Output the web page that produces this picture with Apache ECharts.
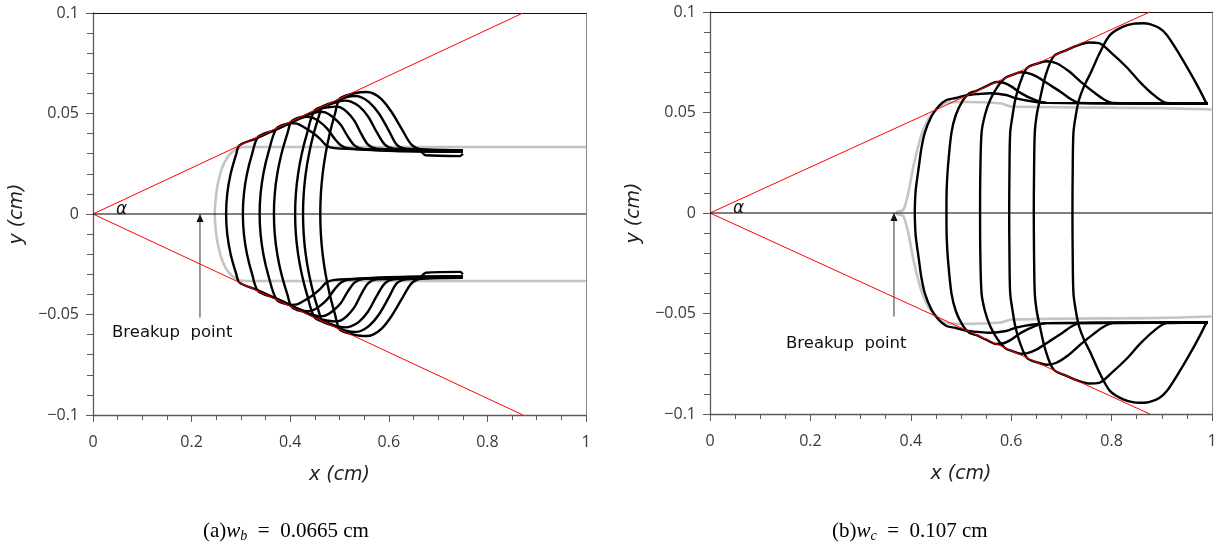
<!DOCTYPE html>
<html>
<head>
<meta charset="utf-8">
<script src="https://cdn.jsdelivr.net/npm/echarts@6/dist/echarts.min.js"></script>
<style>
  html, body { margin: 0; padding: 0; background: #fff; }
  #chart { width: 1229px; height: 546px; }
</style>
</head>
<body>
<div id="chart"></div>
<script>
// ---------- axes ----------
const xRange = [0, 1];
const yRange = [-0.1, 0.1];
const xStep = 0.2;
const yStep = 0.05;

// ---------- panel (a): w_b = 0.0665 cm ----------
// cone edge: end point of the upper red line (lower one is mirrored)
const coneEndA = [0.872, 0.1];
// breakup envelope (upper half, from the tip outwards)
const envelopeA = [
  [0.247, 0], [0.250, 0.010], [0.255, 0.017], [0.262, 0.023], [0.272, 0.028],
  [0.283, 0.031], [0.295, 0.0328], [0.310, 0.0333], [1.0, 0.0333]
];
// interface profiles (upper half, from the axis outwards to the tail)
const profileA1 = [
  [0.270, 0], [0.2723, 0.01], [0.2792, 0.02], [0.2907, 0.03], [0.2966, 0.034],
  [0.33, 0.0375], [0.36, 0.0408], [0.388, 0.0438], [0.403, 0.0452], [0.414, 0.0450],
  [0.428, 0.0432], [0.445, 0.0405], [0.46, 0.0375], [0.474, 0.034], [0.49, 0.0328],
  [0.55, 0.0322], [0.75, 0.0318]
];
const profileA2 = [
  [0.304, 0], [0.3061, 0.01], [0.3124, 0.02], [0.3229, 0.03], [0.335, 0.0384],
  [0.37, 0.0419], [0.40, 0.0454], [0.42, 0.0475], [0.433, 0.0484], [0.444, 0.0481],
  [0.458, 0.0462], [0.475, 0.0425], [0.49, 0.0375], [0.504, 0.034], [0.52, 0.0326],
  [0.6, 0.0315], [0.75, 0.031]
];
const profileA3 = [
  [0.338, 0], [0.3399, 0.01], [0.3456, 0.02], [0.3551, 0.03], [0.3727, 0.0427],
  [0.40, 0.0455], [0.43, 0.0488], [0.448, 0.0503], [0.460, 0.0509], [0.471, 0.0506],
  [0.485, 0.0485], [0.502, 0.0445], [0.517, 0.0385], [0.531, 0.034], [0.55, 0.0322],
  [0.66, 0.0312], [0.75, 0.031]
];
const profileA4 = [
  [0.367, 0], [0.3687, 0.01], [0.3738, 0.02], [0.3823, 0.03], [0.3942, 0.04],
  [0.4034, 0.0463], [0.43, 0.0490], [0.46, 0.0522], [0.478, 0.0531], [0.491, 0.0534],
  [0.502, 0.0530], [0.515, 0.0508], [0.53, 0.0465], [0.545, 0.0395], [0.558, 0.0345],
  [0.575, 0.0325], [0.66, 0.032], [0.675, 0.0292], [0.745, 0.0288], [0.75, 0.030]
];
const profileA5 = [
  [0.410, 0], [0.4115, 0.01], [0.416, 0.02], [0.4235, 0.03], [0.434, 0.04],
  [0.45, 0.0516], [0.48, 0.0545], [0.50, 0.0561], [0.511, 0.0564], [0.523, 0.0559],
  [0.54, 0.0535], [0.558, 0.0485], [0.575, 0.041], [0.592, 0.0345], [0.61, 0.0325],
  [0.75, 0.0318]
];
const profileA6 = [
  [0.426, 0], [0.4274, 0.01], [0.4314, 0.02], [0.4382, 0.03], [0.4476, 0.04],
  [0.4598, 0.05], [0.4643, 0.0532], [0.49, 0.0558], [0.515, 0.0582], [0.531, 0.0587],
  [0.543, 0.0582], [0.56, 0.0557], [0.58, 0.0500], [0.60, 0.0415], [0.616, 0.0345],
  [0.635, 0.0325], [0.75, 0.0315]
];
const profileA7 = [
  [0.461, 0], [0.4622, 0.01], [0.4658, 0.02], [0.4718, 0.03], [0.4802, 0.04],
  [0.491, 0.05], [0.5005, 0.0574], [0.525, 0.0598], [0.542, 0.0606], [0.555, 0.0607],
  [0.568, 0.0600], [0.585, 0.0572], [0.605, 0.0510], [0.627, 0.0420], [0.646, 0.0345],
  [0.665, 0.0322], [0.75, 0.0312]
];
// breakup arrow: x position, tail y, head y
const arrowA = [0.217, -0.0515, 0.0];

// ---------- panel (b): w_c = 0.107 cm ----------
const coneEndB = [0.876, 0.1];
const envelopeB = [
  [0.372, 0.0005], [0.385, 0.0015], [0.395, 0.010], [0.405, 0.023], [0.418, 0.0363],
  [0.426, 0.042], [0.438, 0.0479], [0.452, 0.0515], [0.4615, 0.0537], [0.47, 0.0548],
  [0.50, 0.0552], [0.58, 0.0545], [0.60, 0.0530], [0.90, 0.0522], [0.999, 0.0515]
];
const profileB1 = [
  [0.408, 0], [0.4085, 0.006], [0.410, 0.012], [0.416, 0.023], [0.421, 0.032],
  [0.428, 0.040], [0.441, 0.048], [0.455, 0.053], [0.471, 0.0562], [0.49, 0.0572],
  [0.51, 0.0585], [0.535, 0.0592], [0.558, 0.0596], [0.59, 0.0587], [0.61, 0.057],
  [0.64, 0.0556], [0.67, 0.0548], [0.992, 0.0545]
];
const profileB2 = [
  [0.471, 0], [0.4715, 0.012], [0.474, 0.023], [0.481, 0.040], [0.49, 0.049],
  [0.504, 0.0562], [0.516, 0.0595], [0.531, 0.0608], [0.55, 0.063], [0.571, 0.0652],
  [0.585, 0.0648], [0.60, 0.063], [0.62, 0.0595], [0.645, 0.0565], [0.671, 0.0548],
  [0.992, 0.0545]
];
const profileB3 = [
  [0.538, 0], [0.5385, 0.02], [0.541, 0.040], [0.548, 0.049], [0.558, 0.0562],
  [0.572, 0.0625], [0.588, 0.0672], [0.605, 0.0690], [0.618, 0.0700], [0.632, 0.0697],
  [0.65, 0.068], [0.675, 0.064], [0.70, 0.060], [0.72, 0.0565], [0.737, 0.0548],
  [0.992, 0.0545]
];
const profileB4 = [
  [0.596, 0], [0.5965, 0.02], [0.598, 0.040], [0.603, 0.049], [0.608, 0.0562],
  [0.618, 0.065], [0.631, 0.0720], [0.65, 0.0742], [0.671, 0.0755], [0.69, 0.0745],
  [0.715, 0.0705], [0.74, 0.065], [0.765, 0.0600], [0.785, 0.0565], [0.803, 0.0548],
  [0.992, 0.0545]
];
const profileB5 = [
  [0.645, 0], [0.6455, 0.02], [0.647, 0.040], [0.651, 0.049], [0.657, 0.0562],
  [0.668, 0.068], [0.684, 0.0778], [0.705, 0.0805], [0.73, 0.0832], [0.755, 0.0848],
  [0.775, 0.0845], [0.80, 0.0795], [0.83, 0.0725], [0.857, 0.065], [0.885, 0.0585],
  [0.91, 0.0548], [0.992, 0.0545]
];
const profileB6 = [
  [0.722, 0], [0.7225, 0.02], [0.724, 0.040], [0.729, 0.049], [0.735, 0.0562],
  [0.745, 0.063], [0.757, 0.069], [0.777, 0.080], [0.797, 0.0886], [0.823, 0.0927],
  [0.845, 0.0942], [0.863, 0.0944], [0.876, 0.094], [0.895, 0.092], [0.91, 0.0886],
  [0.936, 0.0786], [0.963, 0.067], [0.978, 0.060], [0.989, 0.0547], [0.992, 0.0545]
];
const arrowB = [0.3665, -0.0515, 0.0];

// ---------- helpers ----------
// the profiles are symmetric about y = 0: join the mirrored lower half to the upper half
function fullProfile(upper) {
  const lower = upper.slice().reverse().map(p => [p[0], -p[1]]);
  const rest = upper[0][1] === 0 ? upper.slice(1) : upper;
  return lower.concat(rest);
}

const TICK = '#5a5a5a';
const LABEL_FONT = 'Open Sans';
const TITLE_FONT = 'DejaVu Sans';

function fmtX(v) {
  if (Math.abs(v) < 1e-9) return '0';
  if (Math.abs(v - 1) < 1e-9) return '1';
  return String(+v.toFixed(1));
}
function fmtY(v) {
  if (Math.abs(v) < 1e-9) return '0';
  const s = String(+Math.abs(v).toFixed(2));
  return (v < 0 ? '\u2212' : '') + s;
}

function bottomX(g) {
  return {
    type: 'value', gridIndex: g, min: xRange[0], max: xRange[1], interval: xStep,
    position: 'bottom',
    axisLine: { onZero: false, lineStyle: { color: TICK, width: 1.3 } },
    axisTick: { show: true, length: 7, lineStyle: { color: TICK, width: 1 } },
    minorTick: { show: true, splitNumber: 4, length: 5, lineStyle: { color: TICK, width: 1 } },
    splitLine: { show: false },
    axisLabel: { margin: 19, fontSize: 16, color: '#3a3a3a', fontFamily: LABEL_FONT, formatter: fmtX },
    name: 'x (cm)', nameLocation: 'middle', nameGap: 51,
    nameTextStyle: { fontStyle: 'italic', fontSize: 19, color: '#222', fontFamily: TITLE_FONT }
  };
}
function topX(g) {
  return {
    type: 'value', gridIndex: g, min: xRange[0], max: xRange[1], position: 'top',
    axisLine: { onZero: false, lineStyle: { color: '#111', width: 1 } },
    axisTick: { show: false }, axisLabel: { show: false }, splitLine: { show: false }
  };
}
function leftY(g) {
  return {
    type: 'value', gridIndex: g, min: yRange[0], max: yRange[1], interval: yStep,
    position: 'left',
    axisLine: { onZero: false, lineStyle: { color: TICK, width: 1.3 } },
    axisTick: { show: true, length: 7, lineStyle: { color: TICK, width: 1 } },
    minorTick: { show: true, splitNumber: 5, length: 6, lineStyle: { color: TICK, width: 1 } },
    splitLine: { show: false },
    axisLabel: { margin: 14, fontSize: 16, color: '#3a3a3a', fontFamily: LABEL_FONT, formatter: fmtY },
    name: 'y (cm)', nameLocation: 'middle', nameGap: 66, nameRotate: 90,
    nameTextStyle: { fontStyle: 'italic', fontSize: 19, color: '#222', fontFamily: TITLE_FONT }
  };
}
function rightY(g) {
  return {
    type: 'value', gridIndex: g, min: yRange[0], max: yRange[1], position: 'right',
    axisLine: { onZero: false, lineStyle: { color: '#888', width: 1 } },
    axisTick: { show: false }, axisLabel: { show: false }, splitLine: { show: false }
  };
}

function line(g, data, color, width, z, smooth) {
  return {
    type: 'line', xAxisIndex: g, yAxisIndex: g, data: data,
    showSymbol: false, symbol: 'none', silent: true, animation: false, z: z,
    smooth: smooth || false,
    lineStyle: { color: color, width: width }
  };
}

function panelSeries(g, coneEnd, envelope, profiles, arrow) {
  const out = [];
  out.push(line(g, fullProfile(envelope), '#c4c4c4', 2.6, 2, 0.25));
  profiles.forEach(p => out.push(line(g, fullProfile(p), '#000', 2.4, 3, 0.3)));
  out.push(line(g, [[0, 0], coneEnd], '#ff0000', 1, 4));
  out.push(line(g, [[0, 0], [coneEnd[0], -coneEnd[1]]], '#ff0000', 1, 4));
  out.push(line(g, [[xRange[0], 0], [xRange[1], 0]], '#000', 1, 5));
  const arr = line(g, [[arrow[0], arrow[1]], [arrow[0], arrow[2]]], '#333', 1, 6);
  arr.markPoint = {
    silent: true, symbol: 'triangle', symbolSize: [7, 8], symbolOffset: [0, 4],
    itemStyle: { color: '#000' }, label: { show: false },
    data: [{ coord: [arrow[0], arrow[2]] }]
  };
  out.push(arr);
  return out;
}

const captionRich = {
  n: { fontFamily: 'Liberation Serif', fontSize: 21, color: '#000' },
  i: { fontFamily: 'Liberation Serif', fontStyle: 'italic', fontSize: 21, color: '#000' },
  s: { fontFamily: 'Liberation Serif', fontStyle: 'italic', fontSize: 14, color: '#000', padding: [11, 0, 0, 0] }
};

function txt(x, y, text, font, align) {
  return {
    type: 'text', x: x, y: y, silent: true,
    style: { text: text, font: font, fill: '#111', align: align || 'left', verticalAlign: 'middle' }
  };
}

const chart = echarts.init(document.getElementById('chart'), null, { renderer: 'canvas' });
chart.setOption({
  animation: false,
  backgroundColor: '#fff',
  grid: [
    { left: 93, top: 13, width: 493, height: 402 },
    { left: 710, top: 12, width: 502, height: 402 }
  ],
  xAxis: [bottomX(0), bottomX(1), topX(0), topX(1)],
  yAxis: [leftY(0), leftY(1), rightY(0), rightY(1)],
  series: [].concat(
    panelSeries(0, coneEndA, envelopeA,
      [profileA1, profileA2, profileA3, profileA4, profileA5, profileA6, profileA7], arrowA),
    panelSeries(1, coneEndB, envelopeB,
      [profileB1, profileB2, profileB3, profileB4, profileB5, profileB6], arrowB)
  ),
  graphic: [
    txt(116, 210, '\u03b1', 'italic 17px "DejaVu Sans"'),
    txt(733, 209, '\u03b1', 'italic 17px "DejaVu Sans"'),
    txt(112, 333, 'Breakup  point', '16.5px "DejaVu Sans"'),
    txt(786, 344, 'Breakup  point', '16.5px "DejaVu Sans"'),
    {
      type: 'text', x: 203, y: 531, silent: true,
      style: { text: '{n|(a)}{i|w}{s|b}{n|\u2002=\u20020.0665 cm}', rich: captionRich, verticalAlign: 'middle' }
    },
    {
      type: 'text', x: 832, y: 531, silent: true,
      style: { text: '{n|(b)}{i|w}{s|c}{n|\u2002=\u20020.107 cm}', rich: captionRich, verticalAlign: 'middle' }
    }
  ]
});
</script>
</body>
</html>
